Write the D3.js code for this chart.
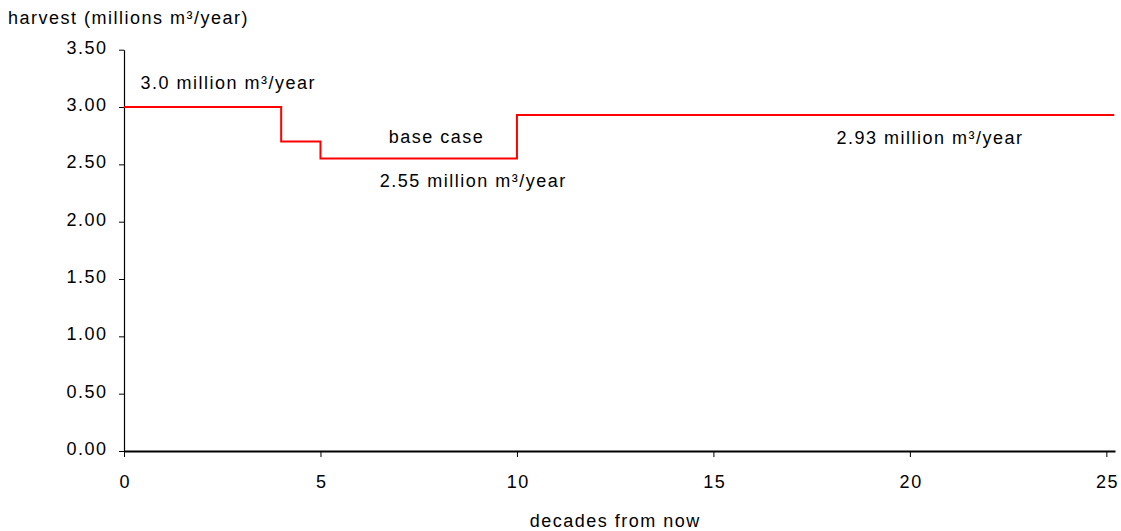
<!DOCTYPE html>
<html>
<head>
<meta charset="utf-8">
<script src="https://cdn.jsdelivr.net/npm/d3@7"></script>
<style>
  body { margin: 0; background: #fff; }
  svg text { font-family: "Liberation Sans", Arial, sans-serif; font-size: 18px; letter-spacing: 1.5px; fill: #000; }
</style>
</head>
<body>
<svg id="chart" width="1121" height="531"></svg>
<script>
// Data
const stepStarts = [0, 4, 5, 10, 25.2];
const harvestLevels = [3.0, 2.7, 2.55, 2.93, 2.93];
const xTicks = [0, 5, 10, 15, 20, 25];
const yTicks = [0, 0.5, 1.0, 1.5, 2.0, 2.5, 3.0, 3.5];
const annotations = [
  { text: "3.0 million m³/year", x: 0.42, y: 3.16 },
  { text: "base case", x: 6.74, y: 2.69 },
  { text: "2.55 million m³/year", x: 6.51, y: 2.30 },
  { text: "2.93 million m³/year", x: 18.13, y: 2.68 }
];
const yTitle = "harvest (millions m³/year)";
const xTitle = "decades from now";

const svg = d3.select("#chart");
const x = d3.scaleLinear().domain([0, 25.22]).range([124, 1115]);
const y = d3.scaleLinear().domain([0, 3.5]).range([451, 49.7]);

// Y axis
const yAxis = svg.append("g").attr("transform", `translate(${x(0)},0)`)
  .call(d3.axisLeft(y).tickValues(yTicks).tickFormat(d3.format(".2f")).tickSize(5).tickSizeOuter(0).tickPadding(13));
yAxis.select(".domain").attr("stroke", "#000").attr("stroke-width", 1.2);
yAxis.selectAll(".tick line").attr("stroke", "#000");
yAxis.selectAll("text").attr("font-size", null).attr("font-family", null).attr("dx", "1.5px").attr("dy", "0.2em");

// X axis
const xAxis = svg.append("g").attr("transform", `translate(0,${y(0)})`)
  .call(d3.axisBottom(x).tickValues(xTicks).tickSize(6).tickSizeOuter(0).tickPadding(18));
xAxis.select(".domain").attr("stroke", "#000").attr("stroke-width", 2);
xAxis.selectAll(".tick line").attr("stroke", "#000");
xAxis.selectAll("text").attr("font-size", null).attr("font-family", null).attr("dx", "0.75px");

// Step line
const pts = stepStarts.map((d, i) => [d, harvestLevels[i]]);
const line = d3.line().x(d => x(d[0])).y(d => y(d[1])).curve(d3.curveStepAfter);
svg.append("path").datum(pts).attr("d", line)
  .attr("fill", "none").attr("stroke", "#ff0000").attr("stroke-width", 2);

// Annotations
svg.selectAll(".ann").data(annotations).enter().append("text")
  .attr("class", "ann").attr("x", d => x(d.x)).attr("y", d => y(d.y)).text(d => d.text);

// Titles
svg.append("text").attr("x", 8).attr("y", 24).text(yTitle);
svg.append("text").attr("x", (x(0) + x(25)) / 2).attr("y", 527).attr("text-anchor", "middle").text(xTitle);
</script>
</body>
</html>
